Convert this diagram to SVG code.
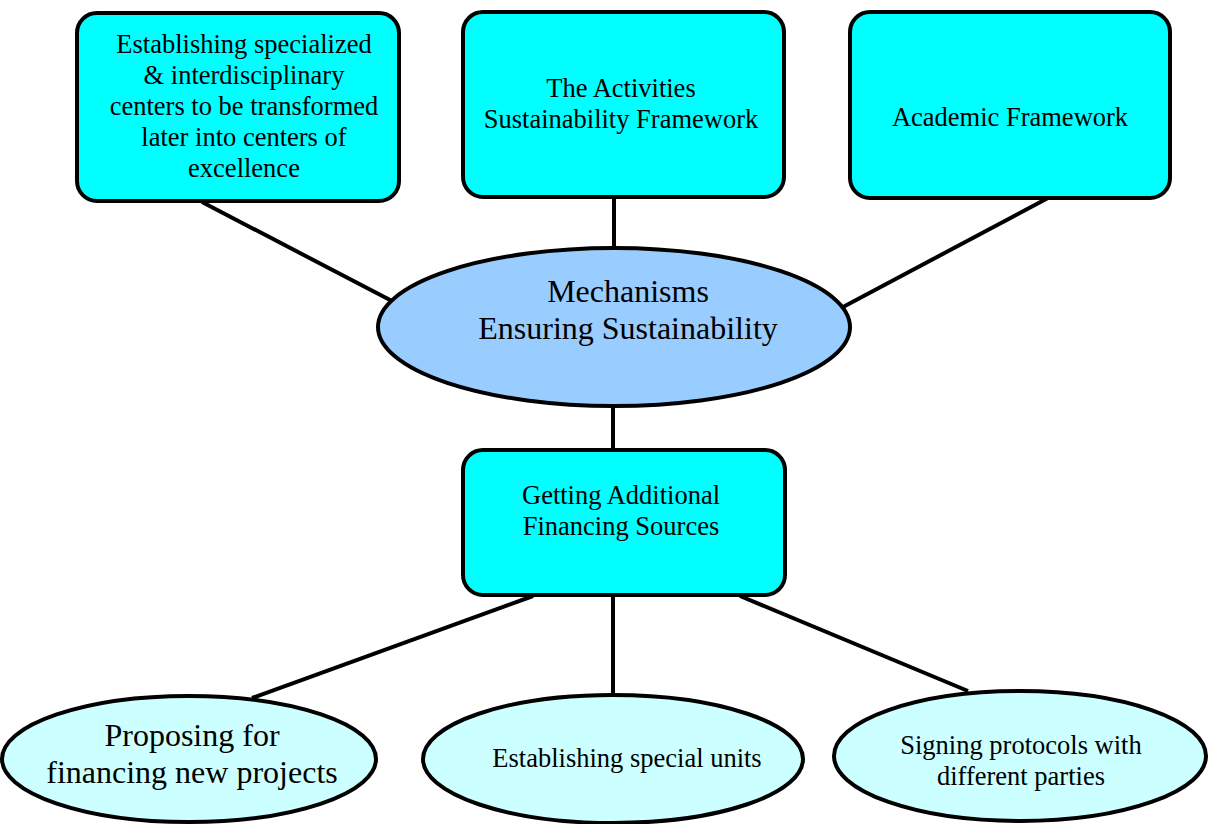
<svg xmlns="http://www.w3.org/2000/svg" width="1210" height="824" viewBox="0 0 1210 824">
<style>
.box{fill:#00FFFF;stroke:#000;stroke-width:4}
.main{fill:#99CCFF;stroke:#000;stroke-width:4}
.leaf{fill:#CCFFFF;stroke:#000;stroke-width:4}
.c{stroke:#000;stroke-width:4;fill:none}
.t24{font-size:26.5px}
.t28{font-size:32px}
</style>
<rect width="1210" height="824" fill="#fff"/>
<g id="connectors">
<line class="c" x1="202" y1="202" x2="392" y2="301"/>
<line class="c" x1="614" y1="197" x2="614" y2="249"/>
<line class="c" x1="1048" y1="198" x2="843" y2="307"/>
<line class="c" x1="613" y1="404" x2="613" y2="451"/>
<line class="c" x1="533" y1="596" x2="252" y2="698"/>
<line class="c" x1="613" y1="596" x2="613" y2="694"/>
<line class="c" x1="740" y1="596" x2="968" y2="691"/>
</g>
<g font-family="'Liberation Serif', 'Times New Roman', serif" text-anchor="middle" fill="#000">
<g id="n1">
<rect class="box" x="77" y="13" width="322" height="188" rx="20"/>
<text class="t24" fill="#000"><tspan x="244" y="53">Establishing specialized</tspan><tspan x="244" y="84">&amp; interdisciplinary</tspan><tspan x="244" y="115">centers to be transformed</tspan><tspan x="244" y="146">later into centers of</tspan><tspan x="244" y="177">excellence</tspan></text>
</g>
<g id="n2">
<rect class="box" x="463" y="12" width="321" height="185" rx="20"/>
<text class="t24" fill="#000"><tspan x="621" y="97">The Activities</tspan><tspan x="621" y="128">Sustainability Framework</tspan></text>
</g>
<g id="n3">
<rect class="box" x="850" y="12" width="320" height="186" rx="20"/>
<text class="t24" fill="#000"><tspan x="1010" y="126">Academic Framework</tspan></text>
</g>
<g id="center">
<ellipse class="main" cx="614" cy="327" rx="236" ry="79"/>
<text class="t28" fill="#000"><tspan x="628" y="302">Mechanisms</tspan><tspan x="628" y="339">Ensuring Sustainability</tspan></text>
</g>
<g id="n4">
<rect class="box" x="463" y="450" width="322" height="145" rx="20"/>
<text class="t24" fill="#000"><tspan x="621" y="504">Getting Additional</tspan><tspan x="621" y="535">Financing Sources</tspan></text>
</g>
<g id="b1">
<ellipse class="leaf" cx="189" cy="759" rx="187" ry="63"/>
<text class="t28" fill="#000"><tspan x="192" y="746">Proposing for</tspan><tspan x="192" y="783">financing new projects</tspan></text>
</g>
<g id="b2">
<ellipse class="leaf" cx="613" cy="759" rx="190" ry="64"/>
<text class="t24" fill="#000"><tspan x="627" y="767">Establishing special units</tspan></text>
</g>
<g id="b3">
<ellipse class="leaf" cx="1020" cy="756" rx="186" ry="65"/>
<text class="t24" fill="#000"><tspan x="1021" y="754">Signing protocols with</tspan><tspan x="1021" y="785">different parties</tspan></text>
</g>
</g>
</svg>
